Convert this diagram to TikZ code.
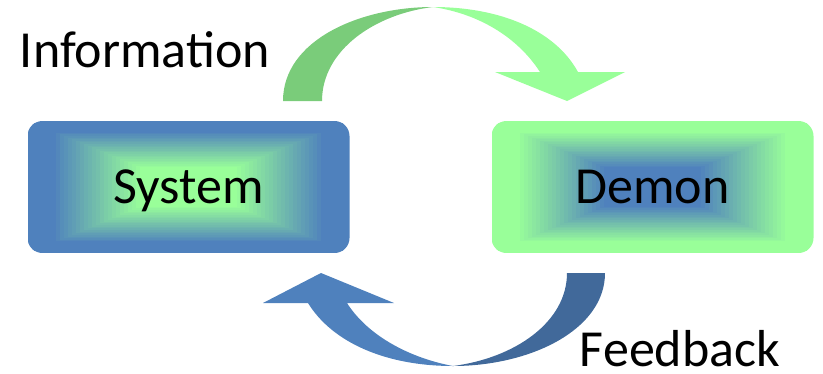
\documentclass[tikz,border=0pt]{standalone}
\usepackage{fontspec}
\setmainfont{Carlito}
\usepackage{tikz}
\usepackage{xcolor}
\usetikzlibrary{calc}

\definecolor{sysblue}{HTML}{4F81BD}
\definecolor{darkblue}{HTML}{41699A}
\definecolor{demgreen}{HTML}{99FF99}
\definecolor{darkgreen}{HTML}{7ACC7A}

\tikzset{
  shadebox/.style 2 args={rounded corners=15pt, minimum width=322pt, minimum height=132pt,
    inner sep=0pt, text depth=0pt, font=\fontsize{52}{60}\selectfont,
    path picture={
      \foreach \k in {0,...,40} {
        \pgfmathsetmacro\sc{1-\k/40}
        \pgfmathtruncatemacro\pc{100*min(1,max(0,(\sc-0.3)/0.55))}
        \fill[sharp corners,#1!\pc!#2] ($(path picture bounding box.center)!\sc!(path picture bounding box.north west)$) rectangle ($(path picture bounding box.center)!\sc!(path picture bounding box.south east)$);
      }
    }},
  bigtext/.style={font=\fontsize{52}{60}\selectfont, inner sep=0pt}
}

\begin{document}
\begin{tikzpicture}[x=1pt,y=-1pt]
  \useasboundingbox (0,0) rectangle (823,373);
  \node[shadebox={sysblue}{demgreen}] (sys) at (188.5,187) {System};
  \node[shadebox={demgreen}{sysblue}] (dem) at (652.5,187) {Demon};
  % top arrow
  \fill[darkgreen] (283,101) .. controls (283,40) and (360,7) .. (433,7) .. controls (375,14) and (322,50) .. (322,101) -- cycle;
  \fill[demgreen] (433,7) .. controls (500,7) and (555,30) .. (578,72) -- (625,72) -- (567,101) -- (495,72) -- (540,72) .. controls (518,38) and (480,14) .. (433,7) -- cycle;
  % bottom arrow
  \fill[darkblue] (605,273) .. controls (605,330) and (530,366) .. (453,366) .. controls (515,358) and (567,322) .. (567,273) -- cycle;
  \fill[sysblue] (453,366) .. controls (385,366) and (332,342) .. (308,303) -- (263,303) -- (321,273) -- (394,303) -- (347,303) .. controls (368,336) and (410,358) .. (453,366) -- cycle;
  \node[bigtext, anchor=base] (info) at (145,67) {Information};
  \node[bigtext, anchor=base] (feed) at (680,366) {Feedback};
\end{tikzpicture}
\end{document}
